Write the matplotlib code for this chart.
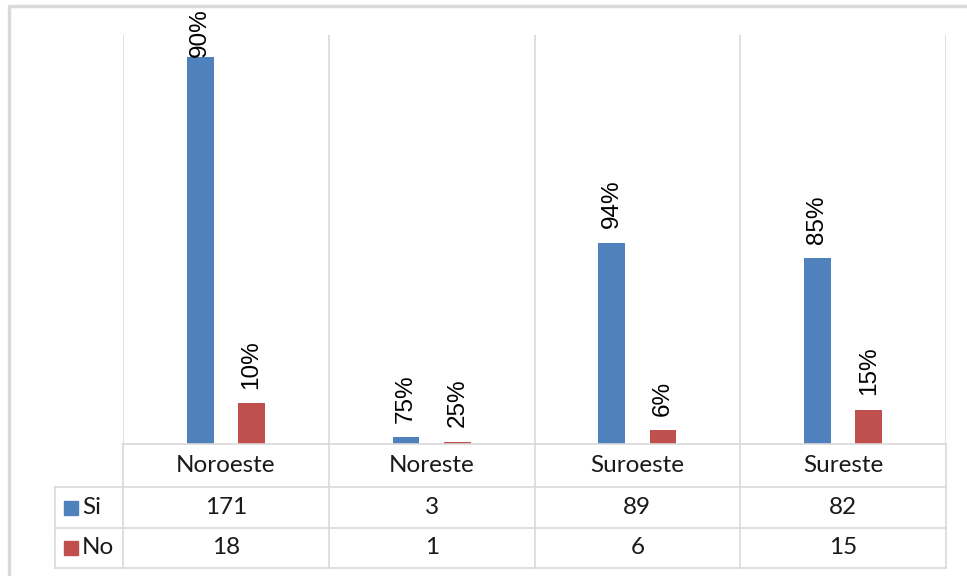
import matplotlib.pyplot as plt
import numpy as np

regiones = ["Noroeste", "Noreste", "Suroeste", "Sureste"]
si = [171, 3, 89, 82]
no = [18, 1, 6, 15]
series = ["Si", "No"]
colores = ["#4F81BD", "#C0504D"]

W, H = 967, 576
fig = plt.figure(figsize=(W / 100, H / 100), dpi=100)

# px -> figure fraction helpers
def fx(px):
    return px / W

def fy(py):
    return 1 - py / H

x_left, x_right = 123, 946
y_top, y_base = 35, 444
grid_col = "#d9d9d9"
ymax = 180.7

ax = fig.add_axes([fx(x_left), fy(y_base), fx(x_right) - fx(x_left), fy(y_top) - fy(y_base)])
x = np.arange(len(regiones))
w = 0.13
b1 = ax.bar(x - 0.125, si, w, color=colores[0])
b2 = ax.bar(x + 0.125, no, w, color=colores[1])
ax.set_xlim(-0.5, len(regiones) - 0.5)
ax.set_ylim(0, ymax)
for s in ax.spines.values():
    s.set_visible(False)
ax.set_xticks([])
ax.set_yticks([])
for k in range(len(regiones) + 1):
    ax.axvline(k - 0.5, color=grid_col, lw=1.2)
ax.axhline(0, color=grid_col, lw=1.2)

tot = np.array(si) + np.array(no)
for bars, vals in [(b1, si), (b2, no)]:
    for r, v, t in zip(bars, vals, tot):
        # labels near the top get pushed down like excel does
        off = 0 if ymax - v < 26 else 10.5
        ax.annotate(f"{round(100 * v / t)}%", (r.get_x() + r.get_width() / 2, v),
                    xytext=(0, off), textcoords="offset points", rotation=90,
                    ha="center", va="bottom", fontsize=17.5,
                    family="Liberation Sans", annotation_clip=False, clip_on=False)

# overlay for table and border
ov = fig.add_axes([0, 0, 1, 1], zorder=-1)
ov.set_xlim(0, W)
ov.set_ylim(H, 0)
ov.axis("off")

# chart border
ov.plot([9, 9, W + 5], [H + 5, 6, 6], color="#d9d9d9", lw=2.5)

rows_y = [444, 487, 528, 568]
col_x = [x_left + k * (x_right - x_left) / len(regiones) for k in range(len(regiones) + 1)]
tkw = dict(ha="center", va="center", fontsize=17.5, family="Lato", color="#1a1a1a")

# horizontal lines
ov.plot([x_left, x_right], [rows_y[0]] * 2, color=grid_col, lw=1.2)
for yy in rows_y[1:]:
    ov.plot([55, x_right], [yy, yy], color=grid_col, lw=1.2)
# vertical lines
for xx in col_x:
    ov.plot([xx, xx], [rows_y[0], rows_y[-1]], color=grid_col, lw=1.2)
ov.plot([55, 55], [rows_y[1], rows_y[-1]], color=grid_col, lw=1.2)

for k, reg in enumerate(regiones):
    cx = (col_x[k] + col_x[k + 1]) / 2
    ov.text(cx, (rows_y[0] + rows_y[1]) / 2, reg, **tkw)
    ov.text(cx, (rows_y[1] + rows_y[2]) / 2, str(si[k]), **tkw)
    ov.text(cx, (rows_y[2] + rows_y[3]) / 2, str(no[k]), **tkw)

for i, (nom, c) in enumerate(zip(series, colores)):
    cy = (rows_y[i + 1] + rows_y[i + 2]) / 2
    ov.add_patch(plt.Rectangle((64, cy - 7), 14, 14, color=c))
    ov.text(82, cy, nom, ha="left", va="center", fontsize=17.5, family="Lato", color="#1a1a1a")

fig.savefig("out.png", dpi=100, facecolor="white")
